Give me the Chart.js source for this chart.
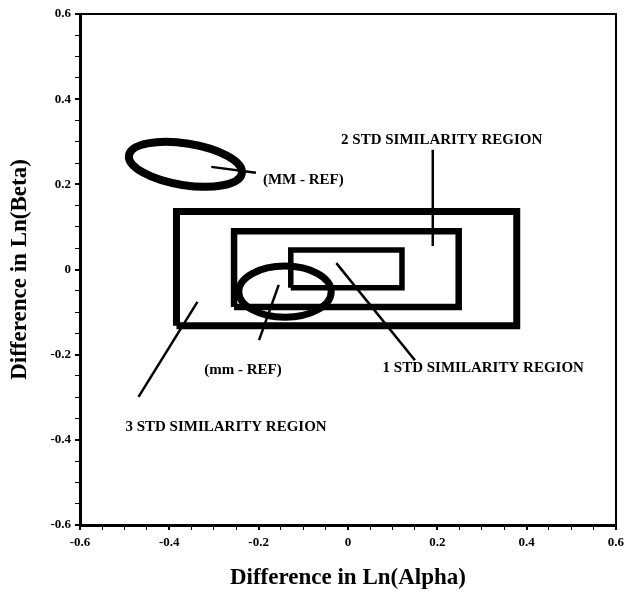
<!DOCTYPE html>
<html>
<head>
<meta charset="utf-8">
<script src="https://cdn.jsdelivr.net/npm/chart.js@4/dist/chart.umd.min.js"></script>
<style>
  html, body { margin: 0; padding: 0; background: #fff; }
</style>
</head>
<body>
<canvas id="simchart" width="629" height="599"></canvas>
<script>
// similarity regions (rectangles), [min, max] in data units
const rect1X = [-0.128, 0.121];
const rect1Y = [-0.043, 0.046];
const rect2X = [-0.255, 0.248];
const rect2Y = [-0.088, 0.090];
const rect3X = [-0.384, 0.378];
const rect3Y = [-0.132, 0.136];

// difference ellipses: centre, half axes, tilt (deg)
const ellipseCX = [-0.364, -0.141];
const ellipseCY = [0.247, -0.052];
const ellipseRX = [0.128, 0.1035];
const ellipseRY = [0.049, 0.060];
const ellipseTilt = [-9, 0];

// leader lines from label to shape
const leaderX = [[-0.306, -0.206], [0.190, 0.190], [-0.026, 0.150], [-0.337, -0.469], [-0.155, -0.199]];
const leaderY = [[0.241, 0.227], [0.281, 0.055], [0.015, -0.213], [-0.076, -0.299], [-0.036, -0.166]];

// labels
const labelText = ['(MM - REF)', '2 STD SIMILARITY REGION', '1 STD SIMILARITY REGION', '3 STD SIMILARITY REGION', '(mm - REF)'];
const labelX = [-0.100, 0.21, 0.303, -0.273, -0.235];
const labelY = [0.21, 0.304, -0.231, -0.37, -0.236];

const axisMin = -0.6;
const axisMax = 0.6;

function rectPoints(xs, ys)
{
  return [
    {x: xs[0], y: ys[0]}, {x: xs[1], y: ys[0]},
    {x: xs[1], y: ys[1]}, {x: xs[0], y: ys[1]},
    {x: xs[0], y: ys[0]}
  ];
}

function isMajor(v)
{
  return Math.abs(v / 0.2 - Math.round(v / 0.2)) < 1e-6;
}

function fmtTick(v)
{
  if (Math.abs(v) < 1e-9) return '0';
  return v.toFixed(1);
}

var datasets = [];
[[rect3X, rect3Y, 7], [rect2X, rect2Y, 6.5], [rect1X, rect1Y, 5.5]].forEach(function(r)
{
  datasets.push({
    data: rectPoints(r[0], r[1]),
    showLine: true,
    borderColor: '#000',
    borderWidth: r[2],
    borderJoinStyle: 'miter',
    pointRadius: 0,
    fill: false
  });
});
var i;
for (i in leaderX)
{
  datasets.push({
    data: [{x: leaderX[i][0], y: leaderY[i][0]}, {x: leaderX[i][1], y: leaderY[i][1]}],
    showLine: true,
    borderColor: '#000',
    borderWidth: 2.5,
    pointRadius: 0,
    fill: false
  });
}

// ellipses + labels drawn with the chart's own scales
const shapesPlugin = {
  id: 'shapes',
  afterDatasetsDraw(chart) {
    const c = chart.ctx;
    const xs = chart.scales.x;
    const ys = chart.scales.y;
    c.save();
    c.strokeStyle = '#000';
    var widths = [8, 7];
    for (var k = 0; k < ellipseCX.length; k++)
    {
      const px = xs.getPixelForValue(ellipseCX[k]);
      const py = ys.getPixelForValue(ellipseCY[k]);
      const rx = Math.abs(xs.getPixelForValue(ellipseCX[k] + ellipseRX[k]) - px);
      const ry = Math.abs(ys.getPixelForValue(ellipseCY[k] + ellipseRY[k]) - py);
      c.lineWidth = widths[k];
      c.beginPath();
      c.ellipse(px, py, rx, ry, -ellipseTilt[k] * Math.PI / 180, 0, Math.PI * 2);
      c.stroke();
    }
    c.fillStyle = '#000';
    c.font = 'bold 15px "Liberation Serif"';
    c.textAlign = 'center';
    c.textBaseline = 'middle';
    for (var n = 0; n < labelText.length; n++)
    {
      c.fillText(labelText[n], xs.getPixelForValue(labelX[n]), ys.getPixelForValue(labelY[n]));
    }
    c.restore();
  }
};

const tickFont = {family: '"Liberation Serif"', size: 13, weight: 'bold'};
const titleFont = {family: '"Liberation Serif"', size: 23, weight: 'bold'};

new Chart(document.getElementById('simchart'), {
  type: 'scatter',
  data: {datasets: datasets},
  plugins: [shapesPlugin],
  options: {
    responsive: false,
    animation: false,
    layout: {padding: {top: 14, right: 12, left: 0, bottom: 0}},
    plugins: {legend: {display: false}, tooltip: {enabled: false}},
    scales: {
      x: {
        type: 'linear', position: 'bottom', min: axisMin, max: axisMax,
        afterFit: function(s) { s.height = 74; },
        border: {display: true, color: '#000', width: 3},
        grid: {drawOnChartArea: false, drawTicks: true, tickLength: 5, color: '#000',
               lineWidth: function(ctx) { return isMajor(ctx.tick.value) ? 2 : 1; }},
        ticks: {stepSize: 0.05, autoSkip: false, maxRotation: 0, padding: 5, color: '#000', font: tickFont,
                callback: function(v) { return isMajor(v) ? fmtTick(v) : ''; }},
        title: {display: true, text: 'Difference in Ln(Alpha)', color: '#000', font: titleFont,
                padding: {top: 4, bottom: 7}}
      },
      y: {
        type: 'linear', position: 'left', min: axisMin, max: axisMax,
        afterFit: function(s) { s.width = 80; },
        border: {display: true, color: '#000', width: 3},
        grid: {drawOnChartArea: false, drawTicks: true, tickLength: 5, color: '#000',
               lineWidth: function(ctx) { return isMajor(ctx.tick.value) ? 2 : 1; }},
        ticks: {stepSize: 0.05, autoSkip: false, padding: 4, color: '#000', font: tickFont,
                callback: function(v) { return isMajor(v) ? fmtTick(v) : ''; }},
        title: {display: true, text: 'Difference in Ln(Beta)', color: '#000', font: titleFont,
                padding: {top: 6, bottom: 4}}
      },
      x2: {
        type: 'linear', position: 'top', min: axisMin, max: axisMax,
        afterFit: function(s) { s.height = 0; },
        border: {display: true, color: '#000', width: 2},
        grid: {display: false},
        ticks: {display: false}
      },
      y2: {
        type: 'linear', position: 'right', min: axisMin, max: axisMax,
        afterFit: function(s) { s.width = 0; },
        border: {display: true, color: '#000', width: 2},
        grid: {display: false},
        ticks: {display: false}
      }
    }
  }
});
</script>
</body>
</html>
